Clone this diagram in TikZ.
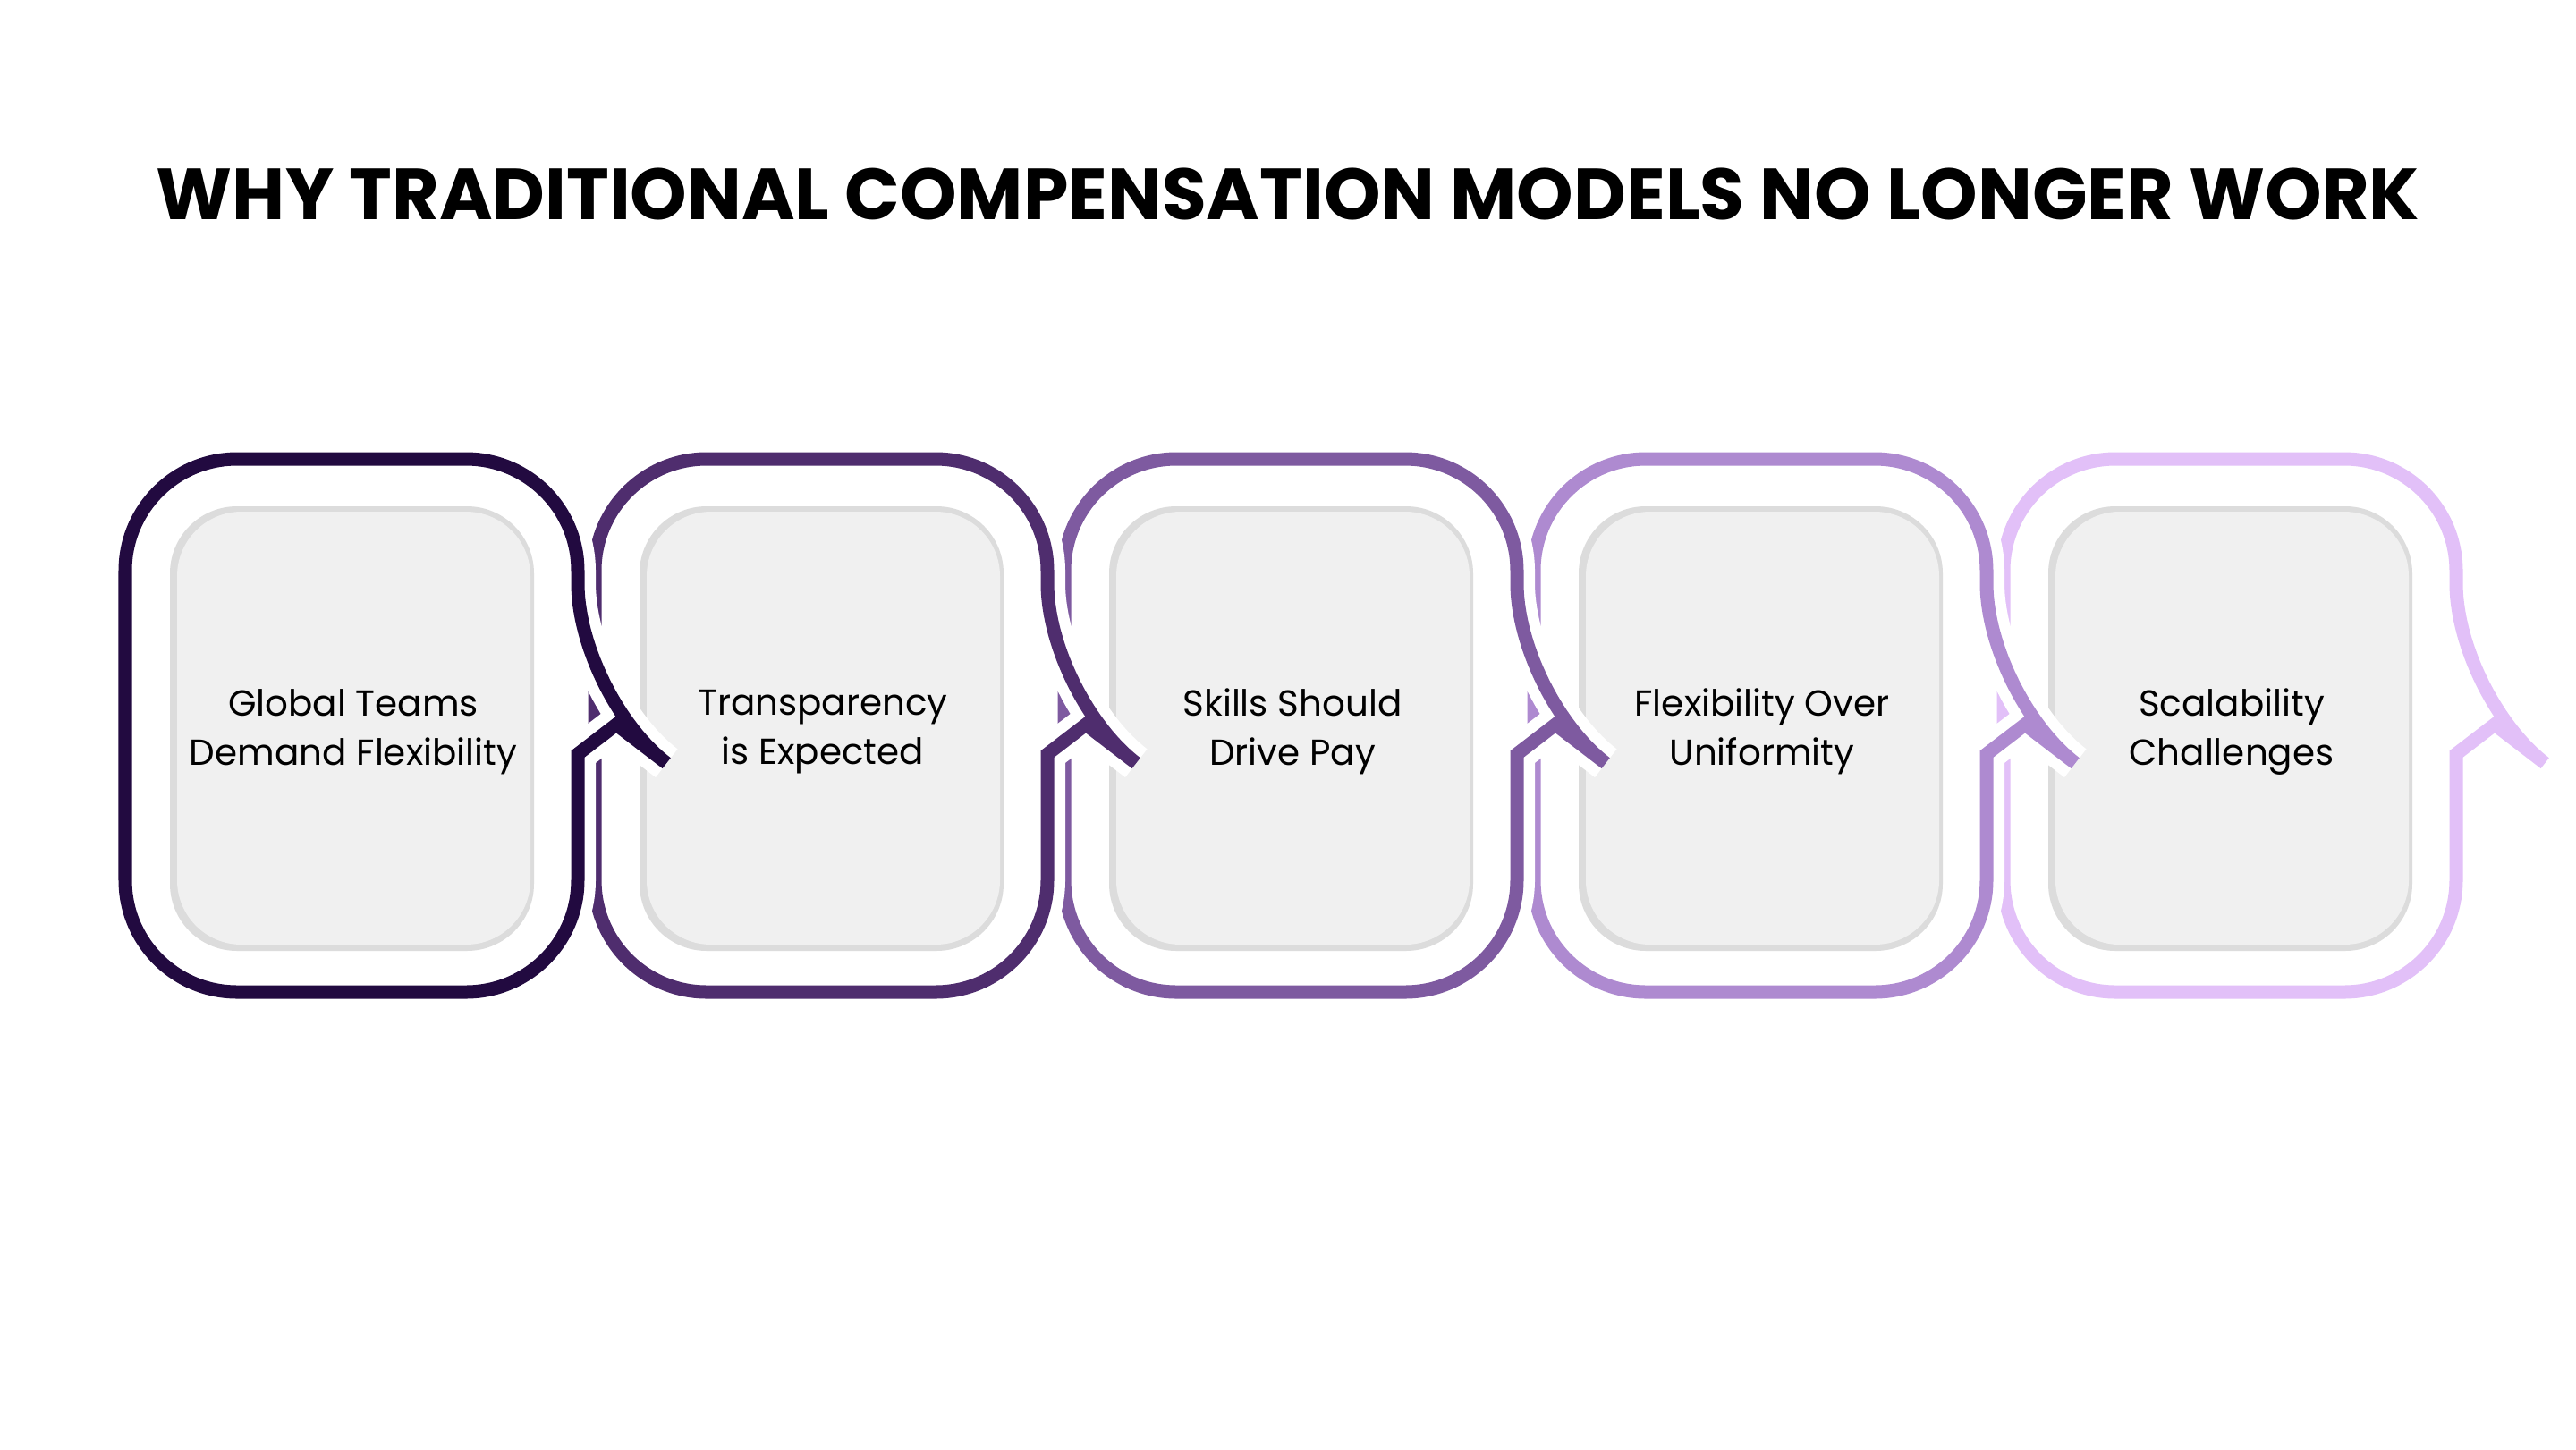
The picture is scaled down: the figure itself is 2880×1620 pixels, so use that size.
\documentclass[tikz,border=0pt]{standalone}
\usepackage{fontspec}
\setmainfont{Poppins}
\begin{document}
\begin{tikzpicture}[x=0.01cm,y=-0.01cm,
  cardtxt/.style={align=center,font=\fontsize{11.5}{15.5}\selectfont\mdseries,text=black},
  halo/.style={draw=white,line width=40*0.2845pt,line join=miter},
  ring/.style={line width=15*0.2845pt,line join=miter}]
\definecolor{cA}{HTML}{220A40}
\definecolor{cB}{HTML}{4F2D6E}
\definecolor{cC}{HTML}{7E5AA0}
\definecolor{cD}{HTML}{AE8AD0}
\definecolor{cE}{HTML}{E2C0F8}
\definecolor{cardfill}{HTML}{F0F0F0}
\definecolor{cardedge}{HTML}{DCDCDC}
\fill[white] (0,0) rectangle (2880,1620);
\useasboundingbox (0,0) rectangle (2880,1620);
\node[font=\fontsize{23}{28}\selectfont\bfseries] (title) at (1440,217) {WHY TRADITIONAL COMPENSATION MODELS NO LONGER WORK};
\foreach \i/\c/\t in {4/cE/{Scalability\\Challenges},3/cD/{Flexibility Over\\Uniformity},2/cC/{Skills Should\\Drive Pay},1/cB/{Transparency\\is Expected},0/cA/{Global Teams\\Demand Flexibility}}{
  \pgfmathsetmacro{\xl}{140+525*\i}
  \pgfmathsetmacro{\xr}{646+525*\i}
  \pgfmathsetmacro{\xt}{\xr+43}
  \def\framepath{[rounded corners=125*0.2845pt] (\xl,810) -- (\xl,513) -- (\xr,513) -- (\xr,777) [sharp corners] -- (\xt,810) -- (\xr,843) [rounded corners=125*0.2845pt] -- (\xr,1109) -- (\xl,1109) -- cycle}
  \draw[halo] \framepath;
  \draw[ring,draw=\c] \framepath;
  \pgfmathsetmacro{\kl}{\xl+53}
  \pgfmathsetmacro{\kr}{\xl+457}
  \fill[cardedge,rounded corners=75*0.2845pt] (\kl-3,566) rectangle (\kr,1063);
  \fill[cardfill,rounded corners=72*0.2845pt] (\kl+5,572) rectangle (\kr-4,1056);
  \node[cardtxt] (card\i) at ({(\kl+\kr)/2},818) {\t};
}
\end{tikzpicture}
\end{document}
